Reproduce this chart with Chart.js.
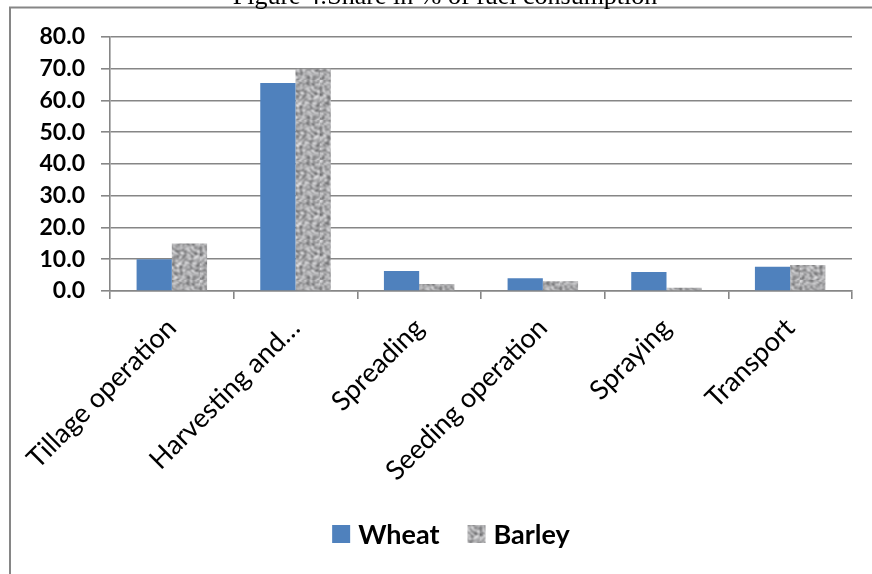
<!DOCTYPE html>
<html>
<head>
<meta charset="utf-8">
<script src="https://cdn.jsdelivr.net/npm/chart.js@4.4.1/dist/chart.umd.min.js"></script>
<style>
  html, body { margin: 0; padding: 0; background: #ffffff; }
  #wrap { width: 872px; height: 574px; position: relative; }
</style>
</head>
<body>
<div id="wrap"><canvas id="chart" width="872" height="574"></canvas></div>
<script>
// Share of fuel consumption (%) per field operation
const categories = ['Tillage operation', 'Harvesting and\u2026', 'Spreading', 'Seeding operation', 'Spraying', 'Transport'];
const wheatValues = [10.0, 65.5, 6.3, 4.0, 6.0, 7.6];
const barleyValues = [15.0, 70.0, 2.2, 3.1, 1.0, 8.2];
const yTicks = [0, 10, 20, 30, 40, 50, 60, 70, 80];
const figureTitle = 'Figure 4:Share in % of fuel consumption';

const AXIS_GRAY = '#868686';
const WHEAT_BLUE = '#4f81bd';

// Mottled grey texture used as the barley fill
function makeGrainPattern() {
  const size = 40;
  const c = document.createElement('canvas');
  c.width = size; c.height = size;
  const g = c.getContext('2d');
  const img = g.createImageData(size, size);
  const k = 2 * Math.PI / size;
  for (let y = 0; y < size; y++) {
    for (let x = 0; x < size; x++) {
      const a = Math.sin(3 * k * x + 2.6 * Math.sin(2 * k * y)) * Math.cos(3 * k * y + 2.2 * Math.sin(2 * k * x));
      const b = Math.sin(5 * k * x + 1.9 * Math.cos(4 * k * y)) * Math.sin(6 * k * y + 1.4 * Math.cos(3 * k * x));
      const d = Math.cos(7 * k * y + 2.0 * Math.sin(k * x)) * Math.cos(4 * k * x);
      let v = 170 + 42 * a + 26 * b + 16 * d;
      v = Math.max(80, Math.min(232, v));
      const i = (y * size + x) * 4;
      img.data[i] = v; img.data[i + 1] = v; img.data[i + 2] = v + 2; img.data[i + 3] = 255;
    }
  }
  g.putImageData(img, 0, 0);
  const c2 = document.createElement('canvas');
  c2.width = size; c2.height = size;
  const g2 = c2.getContext('2d');
  for (let dx = -1; dx <= 1; dx++) {
    for (let dy = -1; dy <= 1; dy++) {
      g2.globalAlpha = (dx === 0 && dy === 0) ? 1 : 0.35;
      g2.drawImage(c, dx, dy);
    }
  }
  return c2;
}
const grainTile = makeGrainPattern();
const ctx = document.getElementById('chart').getContext('2d');
const grainPattern = ctx.createPattern(grainTile, 'repeat');

// Frame, cropped heading and bottom legend
const decorations = {
  id: 'decorations',
  beforeDraw(chart) {
    const c = chart.ctx;
    c.save();
    c.fillStyle = '#ffffff';
    c.fillRect(0, 0, chart.width, chart.height);
    c.strokeStyle = AXIS_GRAY;
    c.lineWidth = 2;
    c.strokeRect(10, 7.5, chart.width + 20, chart.height + 20);
    c.fillStyle = '#000000';
    c.font = '26px "Liberation Serif", "Times New Roman", serif';
    c.textAlign = 'center';
    c.textBaseline = 'alphabetic';
    c.fillText(figureTitle, 445, 3.5);
    c.restore();
  },
  afterDraw(chart) {
    const c = chart.ctx;
    c.save();
    c.font = 'bold 27px Lato, sans-serif';
    c.textBaseline = 'middle';
    c.textAlign = 'left';
    const box = 18, gapText = 8, gapItem = 28, cy = 534;
    const items = chart.data.datasets.map(ds => ({ label: ds.label, fill: ds.backgroundColor }));
    const widths = items.map(it => box + gapText + c.measureText(it.label).width);
    const total = widths.reduce((s, w) => s + w, 0) + gapItem * (items.length - 1);
    let x = 451 - total / 2;
    items.forEach((it, i) => {
      c.fillStyle = it.fill;
      c.fillRect(x, cy - box / 2, box, box);
      c.fillStyle = '#000000';
      c.fillText(it.label, x + box + gapText, cy + 1);
      x += widths[i] + gapItem;
    });
    c.restore();
  }
};

new Chart(ctx, {
  type: 'bar',
  data: {
    labels: categories,
    datasets: [
      { label: 'Wheat', data: wheatValues, backgroundColor: WHEAT_BLUE, borderWidth: 0 },
      { label: 'Barley', data: barleyValues, backgroundColor: grainPattern, borderWidth: 0 }
    ]
  },
  options: {
    responsive: false,
    animation: false,
    devicePixelRatio: 1,
    categoryPercentage: 0.57,
    barPercentage: 1.0,
    layout: { padding: { top: 37, right: 20, bottom: 0, left: 0 } },
    plugins: {
      legend: { display: false },
      tooltip: { enabled: false },
      title: { display: false }
    },
    scales: {
      x: {
        offset: true,
        afterFit(scale) { scale.height = 574 - 291; },
        grid: {
          display: true,
          drawOnChartArea: false,
          offset: true,
          color: AXIS_GRAY,
          lineWidth: 1.6,
          tickLength: 8
        },
        border: { display: true, color: AXIS_GRAY, width: 1.6 },
        ticks: {
          autoSkip: false,
          minRotation: 45,
          maxRotation: 45,
          padding: 13,
          color: '#000000',
          font: { family: 'Lato, sans-serif', size: 27 }
        }
      },
      y: {
        min: 0,
        max: 80,
        afterFit(scale) { scale.width = 110; },
        afterBuildTicks(scale) { scale.ticks = yTicks.map(v => ({ value: v })); },
        grid: {
          color: AXIS_GRAY,
          lineWidth: 1.6,
          tickLength: 9
        },
        border: { display: true, color: AXIS_GRAY, width: 1.6 },
        ticks: {
          padding: 16,
          color: '#000000',
          font: { family: 'Lato, sans-serif', size: 23, weight: 'bold' },
          callback: v => Number(v).toFixed(1)
        }
      }
    }
  },
  plugins: [decorations]
});
</script>
</body>
</html>
